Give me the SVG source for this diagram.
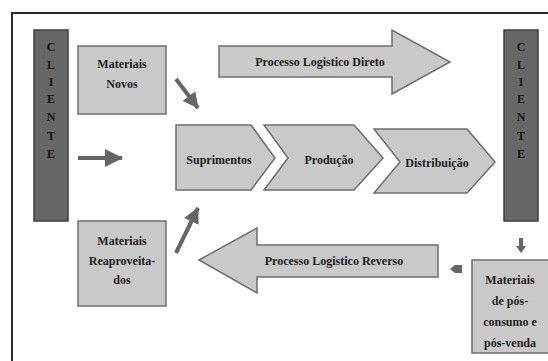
<svg xmlns="http://www.w3.org/2000/svg" width="548" height="361" viewBox="0 0 548 361">
<style>
.bg{fill:#ffffff}
.frame{fill:none;stroke:#2a2a2a;stroke-width:2}
.box{fill:#c9c9c9;stroke:#6e6e6e;stroke-width:1.5}
.cli{fill:#676767;stroke:#3e3e3e;stroke-width:1.5}
.t{font-weight:bold;font-size:12px;fill:#1e1e1e;text-anchor:middle}
.tc{font-weight:bold;font-size:12px;fill:#151515;text-anchor:middle}
.arr{stroke:#666666;stroke-width:4;fill:none}
.ah{fill:#666666}
</style>
<defs>
<marker id="head" viewBox="0 0 16 16" markerWidth="16" markerHeight="16" refX="15" refY="8" orient="auto" markerUnits="userSpaceOnUse">
<path d="M0,0 L16,8 L0,16 z" class="ah"/>
</marker>
<marker id="headL" viewBox="0 0 18 18" markerWidth="18" markerHeight="18" refX="17" refY="9" orient="auto" markerUnits="userSpaceOnUse">
<path d="M0,0 L18,9 L0,18 z" class="ah"/>
</marker>
</defs>
<rect class="bg" x="0" y="0" width="548" height="361"/>
<rect class="frame" x="12" y="13" width="560" height="370"/>
<g font-family="'Liberation Serif', 'DejaVu Serif', serif">
<g id="cliente-esq">
<rect class="cli" x="34" y="30" width="34" height="191"/>
<text class="tc" x="51" y="51">C</text>
<text class="tc" x="51" y="69">L</text>
<text class="tc" x="51" y="86">I</text>
<text class="tc" x="51" y="103">E</text>
<text class="tc" x="51" y="121">N</text>
<text class="tc" x="51" y="140">T</text>
<text class="tc" x="51" y="158">E</text>
</g>

<g id="cliente-dir">
<rect class="cli" x="504" y="30" width="34" height="191"/>
<text class="tc" x="521" y="51">C</text>
<text class="tc" x="521" y="69">L</text>
<text class="tc" x="521" y="86">I</text>
<text class="tc" x="521" y="103">E</text>
<text class="tc" x="521" y="121">N</text>
<text class="tc" x="521" y="140">T</text>
<text class="tc" x="521" y="158">E</text>
</g>

<g id="materiais-novos">
<rect class="box" x="78" y="46" width="88" height="68"/>
<text class="t" x="122" y="68">Materiais</text>
<text class="t" x="122" y="88">Novos</text>
</g>

<g id="processo-direto">
<polygon class="box" points="219,46 392,46 392,30 450,62 392,94 392,77 219,77"/>
<text class="t" x="320" y="66">Processo Logistico Direto</text>
</g>

<g id="suprimentos">
<polygon class="box" points="176,125 251,125 275,158 251,190 176,190"/>
<text class="t" x="219" y="164">Suprimentos</text>
</g>

<g id="producao">
<polygon class="box" points="264,125 354,125 383,158 354,190 264,190 288,158"/>
<text class="t" x="329" y="164">Produção</text>
</g>

<g id="distribuicao">
<polygon class="box" points="374,129 467,129 495,162 467,193 374,193 400,162"/>
<text class="t" x="437" y="167">Distribuição</text>
</g>

<g id="materiais-reaproveitados">
<rect class="box" x="78" y="221" width="88" height="85"/>
<text class="t" x="122" y="245">Materiais</text>
<text class="t" x="122" y="265">Reaproveita-</text>
<text class="t" x="122" y="284">dos</text>
</g>

<g id="processo-reverso">
<polygon class="box" points="199,260 257,228 257,245 438,245 438,277 257,277 257,293"/>
<text class="t" x="334" y="265">Processo Logistico Reverso</text>
</g>

<g id="pos-consumo">
<rect class="box" x="472" y="260" width="80" height="93"/>
<text class="t" x="510" y="284">Materiais</text>
<text class="t" x="510" y="305">de pós-</text>
<text class="t" x="510" y="326">consumo e</text>
<text class="t" x="510" y="347">pós-venda</text>
</g>
</g>
<g id="conectores">
<line class="arr" x1="78" y1="158" x2="122" y2="158" marker-end="url(#headL)"/>
<line class="arr" x1="176" y1="79" x2="198" y2="108" marker-end="url(#head)"/>
<line class="arr" x1="176" y1="253" x2="198" y2="208" marker-end="url(#head)"/>
<polygon class="ah" points="519,238 523,238 523,246 526,246 521,253 516,246 519,246"/>
<polygon class="ah" points="450,269 455,265 462,265 462,273 455,273"/>
</g>
</svg>
